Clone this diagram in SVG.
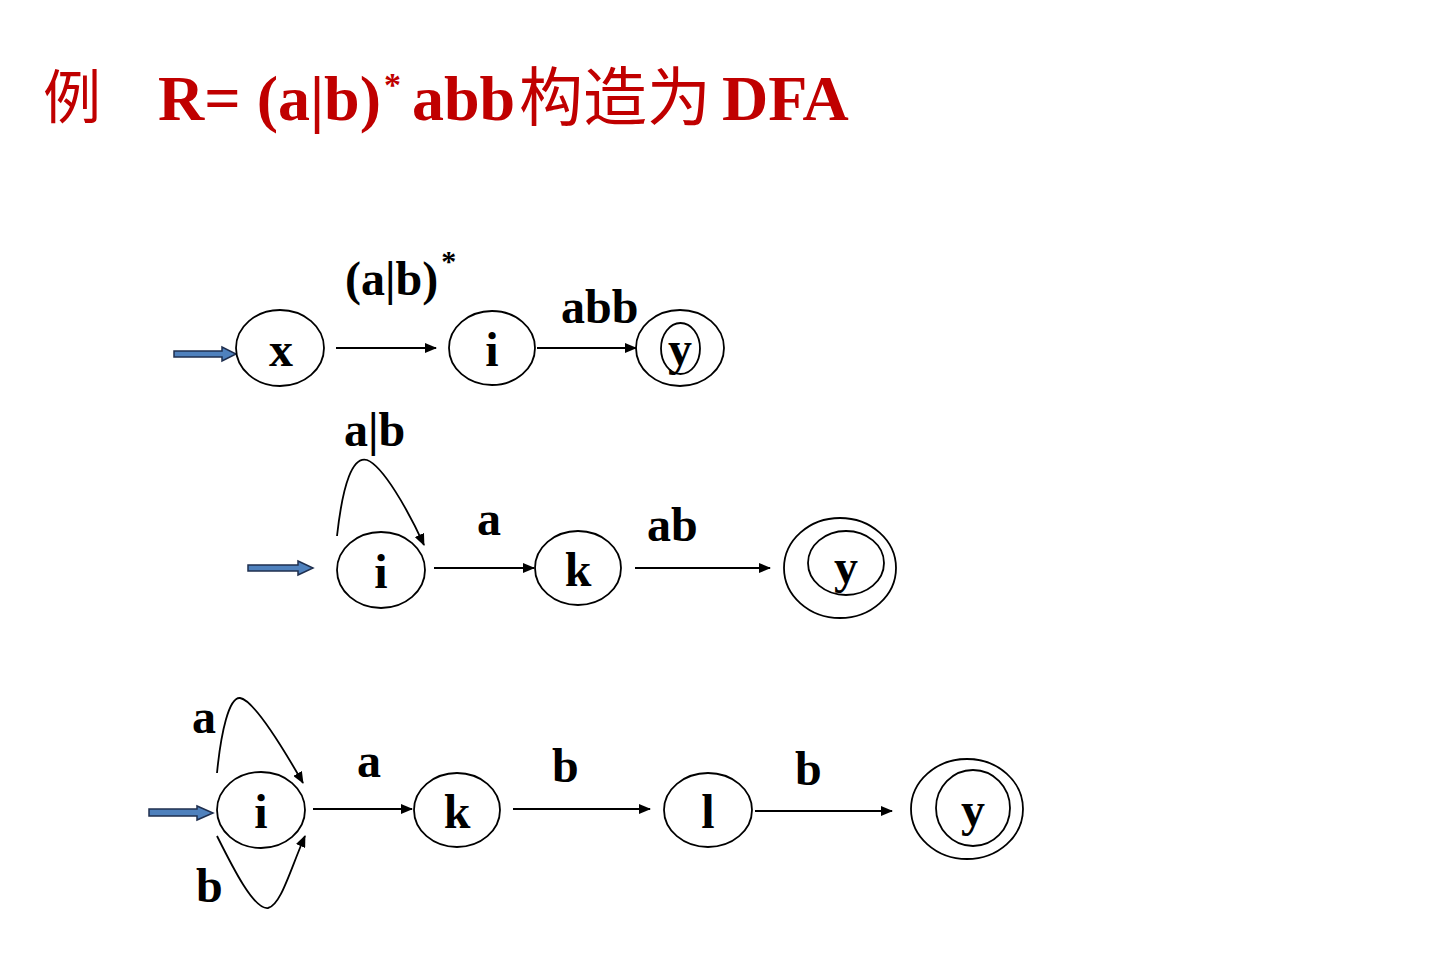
<svg xmlns="http://www.w3.org/2000/svg" width="1432" height="955" viewBox="0 0 1432 955">
<defs>
<marker id="ah" markerWidth="12" markerHeight="10" refX="11" refY="5" orient="auto" markerUnits="userSpaceOnUse">
<path d="M0,0 L12,5 L0,10 Z" fill="#000"/>
</marker>
<style>
.node{fill:#fff;stroke:#000;stroke-width:1.8}
.ring{fill:none;stroke:#000;stroke-width:1.8}
.lbl{font-family:"Liberation Serif","Times New Roman",serif;font-weight:bold;font-size:48px;fill:#000}
.nt{font-family:"Liberation Serif","Times New Roman",serif;font-weight:bold;font-size:48px;fill:#000;text-anchor:middle}
.edge{fill:none;stroke:#000;stroke-width:1.8;marker-end:url(#ah)}
.start{fill:#4F81BD;stroke:#1F2F4F;stroke-width:1.5}
.title{font-family:"Liberation Serif","Times New Roman",serif;font-weight:bold;font-size:64px;fill:#C00000}
.cjk{font-family:"Noto Sans CJK SC",sans-serif;font-weight:normal}
</style>
</defs>
<rect width="1432" height="955" fill="#fff"/>

<g id="title">
<text class="title cjk" x="43" y="118" style="font-size:58px">例</text>
<text class="title" x="158" y="120">R= (a|b)<tspan font-size="34" dx="3" dy="-24">*</tspan><tspan x="412" dy="24">abb</tspan><tspan class="cjk" x="519" style="font-size:64px">构造为</tspan><tspan x="722">DFA</tspan></text>
</g>

<g id="connectors">
<!-- row 1 -->
<path class="start" d="M174,351 L222,351 L222,347 L236,354 L222,361 L222,357 L174,357 Z"/>
<line class="edge" x1="336" y1="348" x2="436" y2="348"/>
<line class="edge" x1="537" y1="348" x2="636" y2="348"/>
<!-- row 2 -->
<path class="start" d="M248,565 L298,565 L298,561 L313,568 L298,575 L298,571 L248,571 Z"/>
<path class="edge" d="M337,536 C343,482 353,456 367,460 C383,466 408,510 424,545"/>
<line class="edge" x1="434" y1="568" x2="534" y2="568"/>
<line class="edge" x1="635" y1="568" x2="770" y2="568"/>
<!-- row 3 -->
<path class="start" d="M149,809 L197,809 L197,806 L213,813 L197,820 L197,816 L149,816 Z"/>
<path class="edge" d="M217,773 C221,732 229,697 240,698 C254,700 283,748 303,783"/>
<path class="edge" d="M217,836 C233,868 254,910 268,908 C281,905 290,870 305,836"/>
<line class="edge" x1="313" y1="809" x2="412" y2="809"/>
<line class="edge" x1="513" y1="809" x2="650" y2="809"/>
<line class="edge" x1="755" y1="811" x2="892" y2="811"/>
</g>

<g id="labels">
<text class="lbl" x="345" y="295">(a|b)<tspan font-size="30" dx="3" dy="-24">*</tspan></text>
<text class="lbl" x="561" y="323">abb</text>
<text class="lbl" x="344" y="446">a|b</text>
<text class="lbl" x="477" y="535">a</text>
<text class="lbl" x="647" y="541">ab</text>
<text class="lbl" x="192" y="733">a</text>
<text class="lbl" x="196" y="902">b</text>
<text class="lbl" x="357" y="777">a</text>
<text class="lbl" x="552" y="782">b</text>
<text class="lbl" x="795" y="785">b</text>
</g>

<g id="node-x1"><ellipse class="node" cx="280" cy="348" rx="44" ry="38"/><text class="nt" x="281" y="366">x</text></g>
<g id="node-i1"><ellipse class="node" cx="492" cy="348" rx="43" ry="37"/><text class="nt" x="492" y="366">i</text></g>
<g id="node-y1"><ellipse class="node" cx="680" cy="348" rx="44" ry="38"/><ellipse class="ring" cx="680.5" cy="348.5" rx="19.5" ry="25.5"/><text class="nt" x="680" y="365">y</text></g>

<g id="node-i2"><ellipse class="node" cx="381" cy="570" rx="44" ry="38"/><text class="nt" x="381" y="588">i</text></g>
<g id="node-k2"><ellipse class="node" cx="578" cy="568" rx="43" ry="37"/><text class="nt" x="578" y="586">k</text></g>
<g id="node-y2"><ellipse class="node" cx="840" cy="568" rx="56" ry="50"/><ellipse class="ring" cx="846" cy="563" rx="38" ry="32"/><text class="nt" x="846" y="583">y</text></g>

<g id="node-i3"><ellipse class="node" cx="261" cy="810" rx="44" ry="38"/><text class="nt" x="261" y="828">i</text></g>
<g id="node-k3"><ellipse class="node" cx="457" cy="810" rx="43" ry="37"/><text class="nt" x="457" y="828">k</text></g>
<g id="node-l3"><ellipse class="node" cx="708" cy="810" rx="44" ry="37"/><text class="nt" x="708" y="828">l</text></g>
<g id="node-y3"><ellipse class="node" cx="967" cy="809" rx="56" ry="50"/><ellipse class="ring" cx="973" cy="808" rx="37" ry="38"/><text class="nt" x="973" y="826">y</text></g>
</svg>
